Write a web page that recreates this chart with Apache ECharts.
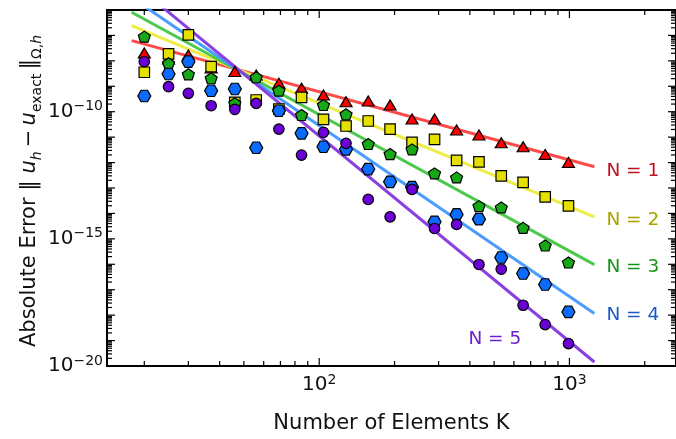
<!DOCTYPE html>
<html>
<head>
<meta charset="utf-8">
<script src="https://cdn.jsdelivr.net/npm/echarts@6/dist/echarts.min.js"></script>
<style>
html,body{margin:0;padding:0;background:#fff;}
#chart{width:676px;height:439px;}
</style>
</head>
<body>
<div id="chart"></div>
<script>
// ---------------- data ----------------
const elementsK = [20, 25, 30, 37, 46, 56, 69, 85, 104, 128, 157, 192, 235, 289, 354, 435, 534, 653, 800, 991];

const errorN1 = [2.05e-8, 1.19e-8, 1.71e-8, 5.25e-9, 3.83e-9, 2.79e-9, 1.31e-9, 8.33e-10, 4.54e-10, 2.48e-10,
                 2.64e-10, 1.84e-10, 5.16e-11, 5.16e-11, 1.91e-11, 1.21e-11, 6.03e-12, 4.19e-12, 2.10e-12, 1.02e-12];
const errorN2 = [3.56e-9, 1.87e-8, 1.05e-7, 5.92e-9, 2.34e-10, 2.89e-10, 1.28e-10, 3.69e-10, 5.02e-11, 2.74e-11,
                 4.31e-11, 2.08e-11, 6.23e-12, 8.19e-12, 1.22e-12, 1.07e-12, 3.02e-13, 1.66e-13, 4.50e-14, 1.99e-14];
const errorN3 = [8.97e-8, 8.05e-9, 2.96e-9, 2.07e-9, 2.14e-10, 2.26e-9, 6.71e-10, 7.41e-11, 1.84e-10, 7.90e-11,
                 5.35e-12, 2.16e-12, 3.31e-12, 3.76e-13, 2.61e-13, 1.94e-14, 1.72e-14, 2.71e-15, 5.50e-16, 1.18e-16];
const errorN4 = [4.15e-10, 3.05e-9, 9.31e-9, 6.71e-10, 7.83e-10, 3.83e-12, 1.09e-10, 1.41e-11, 4.19e-12, 3.31e-12,
                 5.55e-13, 1.75e-13, 1.08e-13, 4.67e-15, 9.14e-15, 5.97e-15, 1.85e-16, 4.35e-17, 1.60e-17, 1.34e-18];
const errorN5 = [9.31e-9, 9.64e-10, 5.30e-10, 1.72e-10, 1.24e-10, 2.14e-10, 2.08e-11, 1.97e-12, 1.54e-11, 5.70e-12,
                 3.56e-14, 7.35e-15, 8.81e-14, 2.56e-15, 3.69e-15, 9.82e-17, 6.41e-17, 2.45e-18, 4.27e-19, 7.62e-20];

// fitted convergence lines: values at the two ends
const fitK  = [17.8, 1258];
const fitN1 = [6.24e-8, 6.84e-13];
const fitN2 = [2.43e-7, 7.35e-15];
const fitN3 = [8.18e-7, 9.64e-17];
const fitN4 = [3.10e-6, 1.16e-18];
const fitN5 = [1.28e-5, 1.44e-20];

const seriesNames = ['N = 1', 'N = 2', 'N = 3', 'N = 4', 'N = 5'];

const xTickValues = [1e2, 1e3];
const xTickLabels = ['10{sup|2}', '10{sup|3}'];
const yTickValues = [1e-10, 1e-15, 1e-20];
const yTickLabels = ['10{sup|\u221210}', '10{sup|\u221215}', '10{sup|\u221220}'];

// ---------------- styles ----------------
const FONT = 'DejaVu Sans';
const TEXT = '#111';
const X_MIN = 14.19, X_MAX = 2666, Y_MIN = 1e-20, Y_MAX = 1e-6;
const markerColors = ['#ff0000', '#e6e000', '#17a817', '#0a6cff', '#6a00d6'];
const lineColors   = ['#ff4a4a', '#eded45', '#4cc94c', '#4a9cff', '#8a40e0'];
const labelColors  = ['#c01020', '#aaa300', '#179417', '#1d5ac2', '#6c22c8'];
const PENTAGON = 'path://M50,0 L97.6,34.5 L79.4,90.5 L20.6,90.5 L2.4,34.5 Z';
const HEXAGON  = 'path://M0,43.3 L25,0 L75,0 L100,43.3 L75,86.6 L25,86.6 Z';
const symbols = ['triangle', 'rect', PENTAGON, HEXAGON, 'circle'];
const symbolSizes = [[12, 10], 10.5, [12, 11], [13, 11.5], 10.5];
const labelDx = [12, 12, 12, 12, -126];
const labelDy = [4, 3, 2, 2, -23];
const MAJ = 8, MIN = 5;

const errors = [errorN1, errorN2, errorN3, errorN4, errorN5];
const fits = [fitN1, fitN2, fitN3, fitN4, fitN5];

// minor tick positions (log axis: 2..9 x 10^k)
function minorTicks(lo, hi) {
  const out = [];
  for (let p = Math.floor(Math.log10(lo)); p <= Math.ceil(Math.log10(hi)); p++) {
    for (let m = 2; m <= 9; m++) {
      const v = m * Math.pow(10, p);
      if (v > lo && v < hi) out.push(v);
    }
  }
  return out;
}
function majorTicks(lo, hi) {
  const out = [];
  for (let p = Math.ceil(Math.log10(lo) - 1e-9); p <= Math.floor(Math.log10(hi) + 1e-9); p++) {
    const v = Math.pow(10, p);
    if (v > lo * 1.0001 && v < hi * 0.9999) out.push(v);
  }
  return out;
}
const xMinor = minorTicks(X_MIN, X_MAX), xMajor = majorTicks(X_MIN, X_MAX);
const yMinor = minorTicks(Y_MIN, Y_MAX), yMajor = majorTicks(Y_MIN, Y_MAX);

function decoRender(params, api) {
  const cs = params.coordSys;
  const L = cs.x, T = cs.y, R = cs.x + cs.width, B = cs.y + cs.height;
  const kids = [];
  const seg = (x1, y1, x2, y2) => kids.push({type: 'line', silent: true,
    shape: {x1, y1, x2, y2}, style: {stroke: '#000', lineWidth: 1.2}});
  const xTick = (v, len) => { const x = api.coord([v, 1e-10])[0]; seg(x, B, x, B - len); seg(x, T, x, T + len); };
  const yTick = (v, len) => { const y = api.coord([100, v])[1]; seg(L, y, L + len, y); seg(R, y, R - len, y); };
  xMinor.forEach(v => xTick(v, MIN));
  xMajor.forEach(v => xTick(v, MAJ));
  yMinor.forEach(v => yTick(v, MIN));
  yMajor.forEach(v => yTick(v, MAJ));

  const rich = {sup: {fontSize: 14, lineHeight: 14, verticalAlign: 'top', fontFamily: FONT, fill: TEXT}};
  xTickValues.forEach((v, i) => {
    const x = api.coord([v, 1e-10])[0];
    kids.push({type: 'text', silent: true, style: {text: xTickLabels[i], x: x, y: B + 7,
      align: 'center', verticalAlign: 'top', fontSize: 20, lineHeight: 24, fontFamily: FONT, fill: TEXT, rich}});
  });
  yTickValues.forEach((v, i) => {
    const y = api.coord([100, v])[1];
    kids.push({type: 'text', silent: true, style: {text: yTickLabels[i], x: L - 4, y: y,
      align: 'right', verticalAlign: 'middle', fontSize: 20, lineHeight: 24, fontFamily: FONT, fill: TEXT, rich}});
  });
  // series labels placed at the end of each fitted line
  fits.forEach((f, i) => {
    const p = api.coord([fitK[fitK.length - 1], f[f.length - 1]]);
    kids.push({type: 'text', silent: true, style: {text: seriesNames[i], x: p[0] + labelDx[i], y: p[1] + labelDy[i],
      align: 'left', verticalAlign: 'middle', fontSize: 18.5, fontFamily: FONT, fill: labelColors[i]}});
  });
  return {type: 'group', children: kids};
}

const series = [];
fits.forEach((f, i) => {
  series.push({
    type: 'line', name: seriesNames[i] + ' fit', silent: true, symbol: 'none', showSymbol: false,
    data: fitK.map((k, j) => [k, f[j]]),
    lineStyle: {color: lineColors[i], width: 3}, z: 2
  });
});
errors.forEach((e, i) => {
  series.push({
    type: 'scatter', name: seriesNames[i],
    data: elementsK.map((k, j) => [k, e[j]]),
    symbol: symbols[i], symbolSize: symbolSizes[i],
    itemStyle: {color: markerColors[i], borderColor: '#000', borderWidth: 1.2, opacity: 1},
    z: 3
  });
});
series.push({type: 'custom', silent: true, renderItem: decoRender, data: [[100, 1e-10]], z: 6});

const chart = echarts.init(document.getElementById('chart'), null, {renderer: 'canvas', width: 676, height: 439});
chart.setOption({
  animation: false,
  backgroundColor: '#fff',
  grid: {left: 107, top: 10, width: 573, height: 356, show: true, borderColor: '#000', borderWidth: 2,
         backgroundColor: 'transparent', containLabel: false},
  xAxis: {
    type: 'log', logBase: 10, min: X_MIN, max: X_MAX,
    axisLine: {show: false}, axisTick: {show: false}, axisLabel: {show: false}, splitLine: {show: false},
    name: 'Number of Elements K', nameLocation: 'middle', nameGap: 47,
    nameTextStyle: {fontFamily: FONT, fontSize: 21, color: TEXT}
  },
  yAxis: {
    type: 'log', logBase: 10, min: Y_MIN, max: Y_MAX,
    axisLine: {show: false}, axisTick: {show: false}, axisLabel: {show: false}, splitLine: {show: false},
    name: 'Absolute Error \u2016 {it|u}{subit|h}\u2009\u2212\u2009{it|u}{sub|exact}\u2009\u2016{sub|\u03A9,}{subit|h}',
    nameLocation: 'middle', nameGap: 63,
    nameTextStyle: {
      fontFamily: FONT, fontSize: 21, color: TEXT, lineHeight: 28, padding: [0, 6, 0, 0],
      rich: {
        it: {fontFamily: FONT, fontSize: 21, fontStyle: 'italic', color: TEXT, lineHeight: 28},
        sub: {fontFamily: FONT, fontSize: 14, color: TEXT, lineHeight: 14, verticalAlign: 'bottom'},
        subit: {fontFamily: FONT, fontSize: 14, fontStyle: 'italic', color: TEXT, lineHeight: 14, verticalAlign: 'bottom'}
      }
    }
  },
  series: series
});
</script>
</body>
</html>
